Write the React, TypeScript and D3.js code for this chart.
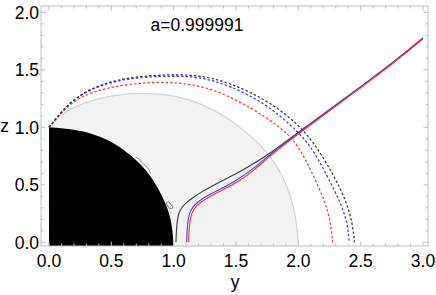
import * as d3 from "d3";

// values, as [y, z] pairs
const xMajor = [0, 0.5, 1, 1.5, 2, 2.5, 3];
const zMajor = [0, 0.5, 1, 1.5, 2];
const xMinor = d3.range(0, 31).map((i) => i / 10).filter((v) => Math.abs(v * 2 - Math.round(v * 2)) > 1e-6);
const zMinor = d3.range(0, 21).map((i) => i / 10).filter((v) => Math.abs(v * 2 - Math.round(v * 2)) > 1e-6);
const title = "a=0.999991";

const horizonEdge = [
  [0, 1.0], [0.15, 0.99], [0.33, 0.955], [0.49, 0.885], [0.6, 0.805], [0.703, 0.716],
  [0.797, 0.605], [0.877, 0.47], [0.944, 0.32], [0.978, 0.2], [0.993, 0.08], [0.997, 0],
];
const ergoEdge = [
  [0, 1.0], [0.1, 1.11], [0.195, 1.18], [0.463, 1.275], [0.75, 1.305], [1.0, 1.28],
  [1.21, 1.212], [1.425, 1.095], [1.638, 0.91], [1.767, 0.765], [1.874, 0.585],
  [1.954, 0.36], [1.989, 0.15], [2.0, 0],
];
const blackDashed = [
  [0, 1.0], [0.195, 1.266], [0.463, 1.397], [0.73, 1.446], [1.0, 1.46], [1.21, 1.452],
  [1.45, 1.39], [1.746, 1.237], [1.96, 1.063], [2.12, 0.88], [2.275, 0.6], [2.382, 0.368],
  [2.435, 0.165], [2.45, 0],
];
const blueDashed = [
  [0, 1.0], [0.195, 1.262], [0.463, 1.39], [0.73, 1.437], [1.0, 1.447], [1.21, 1.438],
  [1.45, 1.365], [1.746, 1.2], [1.933, 1.025], [2.09, 0.86], [2.221, 0.6], [2.342, 0.339],
  [2.395, 0.165], [2.408, 0],
];
const redDashed = [
  [0, 1.0], [0.195, 1.25], [0.463, 1.35], [0.85, 1.403], [1.21, 1.375], [1.5, 1.245],
  [1.746, 1.085], [1.906, 0.955], [2.0, 0.84], [2.114, 0.6], [2.221, 0.339], [2.26, 0.165], [2.275, 0],
];
const blackSolid = [
  [1.018, 0], [1.022, 0.1], [1.03, 0.21], [1.05, 0.285], [1.09, 0.335], [1.157, 0.39],
  [1.21, 0.43], [1.318, 0.495], [1.425, 0.555], [1.532, 0.614], [1.638, 0.681], [1.77, 0.77],
  [2.06, 1.005], [2.41, 1.28], [2.79, 1.59], [3.0, 1.778],
];
const blueSolid = [
  [1.104, 0], [1.108, 0.12], [1.117, 0.21], [1.13, 0.26], [1.148, 0.3], [1.2, 0.36],
  [1.27, 0.405], [1.37, 0.46], [1.5, 0.535], [1.64, 0.64], [1.77, 0.762], [2.06, 1.0],
  [2.41, 1.277], [2.79, 1.587], [3.0, 1.775],
];
const redSolid = [
  [1.12, 0], [1.124, 0.12], [1.133, 0.2], [1.145, 0.25], [1.165, 0.295], [1.21, 0.345],
  [1.29, 0.4], [1.4, 0.458], [1.53, 0.535], [1.65, 0.63], [1.77, 0.752], [2.06, 0.992],
  [2.41, 1.27], [2.79, 1.58], [3.0, 1.769],
];
const noiseLoop = [[0.94, 0.34], [0.962, 0.355], [0.975, 0.33], [0.995, 0.31], [0.985, 0.29], [0.96, 0.3]];
const noiseEdge = [[0.695, 0.74], [0.72, 0.728], [0.74, 0.7], [0.775, 0.665], [0.8, 0.635], [0.815, 0.6]];

export default function App() {
  const W = 436, H = 295;
  const left = 41, right = 428, top = 6, bottom = 246;
  const x = d3.scaleLinear().domain([-0.064, 3.04]).range([left, right]);
  const y = d3.scaleLinear().domain([-0.032, 2.055]).range([bottom, top]);
  const zMin = y.domain()[0];

  const smooth = d3.line<number[]>().x((d) => x(d[0])).y((d) => y(d[1])).curve(d3.curveBasis);
  const straight = d3.line<number[]>().x((d) => x(d[0])).y((d) => y(d[1]));

  // edge curve, then straight down to the frame bottom and back along it
  const fillUnder = (edge: number[][]) => {
    const last = edge[edge.length - 1];
    return `${smooth(edge)}L${x(last[0])},${y(zMin)}L${x(edge[0][0])},${y(zMin)}Z`;
  };

  const frameGray = "#bdbdbd";
  const font = "Liberation Sans, Arial, sans-serif";

  return (
    <svg width={W} height={H} style={{ position: "absolute", left: 0, top: 0 }} fontFamily={font}>
      <rect x={0} y={0} width={W} height={H} fill="white" />
      <defs>
        <clipPath id="plot">
          <rect x={left} y={top} width={right - left} height={bottom - top} />
        </clipPath>
      </defs>
      <g clipPath="url(#plot)">
        <path d={fillUnder(ergoEdge)} fill="#f2f2f2" stroke="none" />
        <path d={smooth(ergoEdge) ?? ""} fill="none" stroke="#d2d2d2" strokeWidth={1.2} />
        <path d={fillUnder(horizonEdge)} fill="#000" />
        <path d={straight(noiseLoop.concat([noiseLoop[0]])) ?? ""} fill="none" stroke="#666" strokeWidth={0.8} />
        <path d={straight(noiseEdge) ?? ""} fill="none" stroke="#777" strokeWidth={0.8} />
        <path d={smooth(redDashed) ?? ""} fill="none" stroke="#ff3333" strokeWidth={1.2} strokeDasharray="2.5,2" />
        <path d={smooth(blueDashed) ?? ""} fill="none" stroke="#3333ff" strokeWidth={1.2} strokeDasharray="2.5,2" />
        <path d={smooth(blackDashed) ?? ""} fill="none" stroke="#333" strokeWidth={1.2} strokeDasharray="2.5,2" />
        <path d={smooth(blackSolid) ?? ""} fill="none" stroke="#3a3a3a" strokeWidth={1.1} />
        <path d={smooth(blueSolid) ?? ""} fill="none" stroke="#4040ff" strokeWidth={1.1} />
        <path d={smooth(redSolid) ?? ""} fill="none" stroke="#ff3030" strokeWidth={1.1} />
      </g>

      <rect x={left} y={top} width={right - left} height={bottom - top} fill="none" stroke={frameGray} strokeWidth={1} />
      {xMajor.map((v) => (
        <g key={"xM" + v}>
          <line x1={x(v)} x2={x(v)} y1={bottom} y2={bottom - 4.5} stroke={frameGray} />
          <line x1={x(v)} x2={x(v)} y1={top} y2={top + 4.5} stroke={frameGray} />
          <text x={x(v)} y={267} textAnchor="middle" fontSize={17.5}>{v.toFixed(1)}</text>
        </g>
      ))}
      {xMinor.map((v) => (
        <g key={"xm" + v}>
          <line x1={x(v)} x2={x(v)} y1={bottom} y2={bottom - 2.5} stroke={frameGray} />
          <line x1={x(v)} x2={x(v)} y1={top} y2={top + 2.5} stroke={frameGray} />
        </g>
      ))}
      {zMajor.map((v) => (
        <g key={"zM" + v}>
          <line x1={left} x2={left + 4.5} y1={y(v)} y2={y(v)} stroke={frameGray} />
          <line x1={right} x2={right - 4.5} y1={y(v)} y2={y(v)} stroke={frameGray} />
          <text x={39} y={y(v) + 6.2} textAnchor="end" fontSize={17.5}>{v.toFixed(1)}</text>
        </g>
      ))}
      {zMinor.map((v) => (
        <g key={"zm" + v}>
          <line x1={left} x2={left + 2.5} y1={y(v)} y2={y(v)} stroke={frameGray} />
          <line x1={right} x2={right - 2.5} y1={y(v)} y2={y(v)} stroke={frameGray} />
        </g>
      ))}
      <text x={235} y={288} textAnchor="middle" fontSize={17.5}>y</text>
      <text x={4.5} y={131.5} textAnchor="middle" fontSize={17.5}>z</text>
      <text x={197} y={30.5} textAnchor="middle" fontSize={17.5}>{title}</text>
    </svg>
  );
}
